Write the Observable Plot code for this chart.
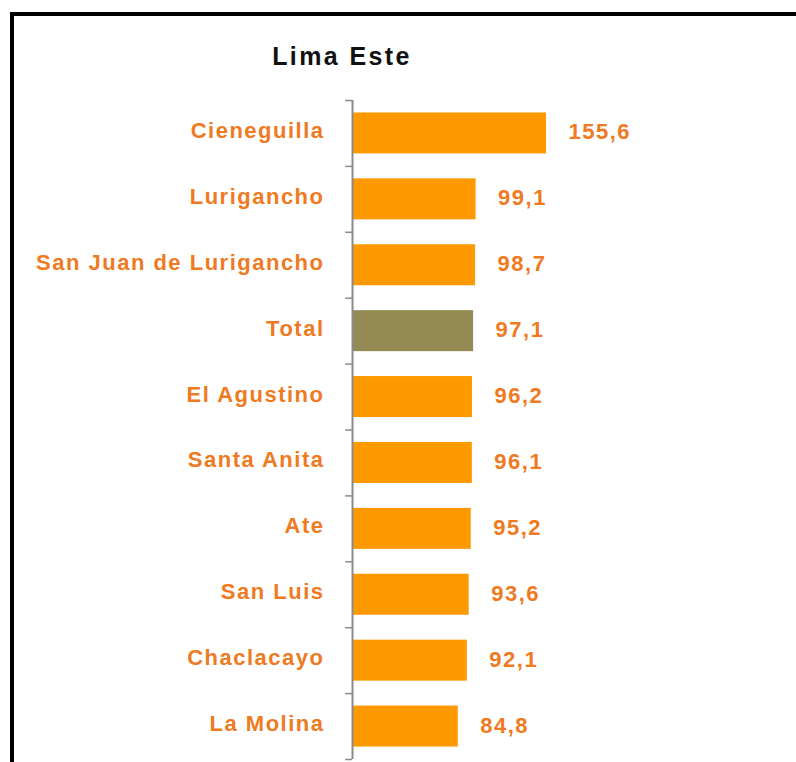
<!DOCTYPE html>
<html>
<head>
<meta charset="utf-8">
<script src="https://cdn.jsdelivr.net/npm/d3@7"></script>
<script src="https://cdn.jsdelivr.net/npm/@observablehq/plot@0.6"></script>
<style>
  html, body { margin: 0; padding: 0; background: #fff; width: 796px; height: 762px; overflow: hidden; }
  #frame { position: absolute; left: 10px; top: 12px; width: 800px; height: 800px;
           border-left: 4px solid #000; border-top: 4px solid #000; box-sizing: border-box; }
  #title { position: absolute; left: 0; width: 684px; top: 42px; text-align: center;
           font-family: "Liberation Sans", Arial, sans-serif; font-weight: bold; font-size: 25px;
           letter-spacing: 2.4px; color: #111; }
  #chart { position: absolute; left: 0; top: 0; }
</style>
</head>
<body>
<div id="frame"></div>
<div id="title">Lima Este</div>
<div id="chart"></div>
<script>
const categories = ["Cieneguilla", "Lurigancho", "San Juan de Lurigancho", "Total", "El Agustino",
                    "Santa Anita", "Ate", "San Luis", "Chaclacayo", "La Molina"];
const values = [155.6, 99.1, 98.7, 97.1, 96.2, 96.1, 95.2, 93.6, 92.1, 84.8];
const highlight = "Total";

const data = categories.map((c, i) => ({ name: c, value: values[i], total: c === highlight }));
const fmt = v => v.toFixed(1).replace(".", ",");

const W = 796, H = 762;
const plotTop = 100, plotBottom = 759;
const step = (plotBottom - plotTop) / categories.length;
const orangeText = "#EF7A1F";

const chart = Plot.plot({
  width: W,
  height: H,
  marginLeft: 352,
  marginRight: 194.6,
  marginTop: plotTop,
  marginBottom: H - plotBottom,
  style: { fontFamily: "Liberation Sans, Arial, sans-serif", background: "transparent", overflow: "visible" },
  x: { domain: [0, 200], axis: null },
  y: { domain: categories, paddingInner: 0.378, paddingOuter: 0.189, round: false, label: null },
  marks: [
    Plot.barX(data, { y: "name", x: "value", fill: d => d.total ? "#948A54" : "#FF9900" }),
    Plot.ruleX([0], { stroke: "#8a8a8a", strokeWidth: 2 }),
    Plot.ruleY(categories, { y: d => d, x1: -5.5, x2: 0, dy: -step / 2, stroke: "#8a8a8a", strokeWidth: 1.5 }),
    Plot.ruleY([categories[categories.length - 1]], { y: d => d, x1: -5.5, x2: 0, dy: step / 2, stroke: "#8a8a8a", strokeWidth: 1.5 }),
    Plot.axisY({ tickSize: 0, tickPadding: 28, dy: -2.5, fill: orangeText, fontSize: 22, fontWeight: "bold", label: null }),
    Plot.text(data, { y: "name", x: "value", text: d => fmt(d.value), textAnchor: "start", dx: 22, dy: -1,
                      fill: orangeText, fontSize: 22, fontWeight: "bold" })
  ]
});
chart.querySelectorAll("text").forEach(t => t.setAttribute("letter-spacing", "1.5"));
document.getElementById("chart").appendChild(chart);
</script>
</body>
</html>
